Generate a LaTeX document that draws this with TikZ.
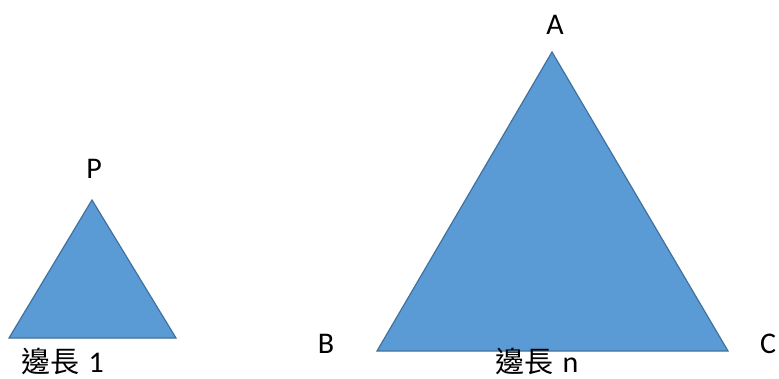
\documentclass[tikz,border=0pt]{standalone}
\usepackage{fontspec}
\setmainfont{Carlito}
\newfontfamily\cjk{Noto Sans CJK TC}
\definecolor{triblue}{HTML}{5B9BD5}
\definecolor{triedge}{HTML}{41719C}
\newcommand{\sidelen}{{\cjk\fontsize{29}{31}\selectfont 邊長}\hspace{9pt}}
\tikzset{
  tri/.style={fill=triblue,draw=triedge,line width=1.2pt,line join=miter},
  lbl/.style={font=\fontsize{30}{32}\selectfont,inner sep=0pt},
  side/.style={lbl,anchor=base west}
}
\begin{document}
\begin{tikzpicture}[x=1pt,y=-1pt]
	\useasboundingbox (0,0) rectangle (779,378);
	% small triangle
	\coordinate (P) at (92,200);
	\coordinate (Pl) at (9,338);
	\coordinate (Pr) at (176,338);
	\draw[tri] (P) -- (Pl) -- (Pr) -- cycle;
	% large triangle
	\coordinate (A) at (552,52);
	\coordinate (B) at (377,351);
	\coordinate (C) at (728,351);
	\draw[tri] (A) -- (B) -- (C) -- cycle;
	% labels
	\node[lbl,anchor=base] (labP) at (94,178) {P};
	\node[lbl,anchor=base] (labA) at (555,34) {A};
	\node[lbl,anchor=base] (labB) at (326,353) {B};
	\node[lbl,anchor=base west] (labC) at (760,353) {C};
	\node[side] (side1) at (21.5,372.5) {\sidelen 1};
	\node[side] (siden) at (495.5,372.5) {\sidelen n};
\end{tikzpicture}
\end{document}
